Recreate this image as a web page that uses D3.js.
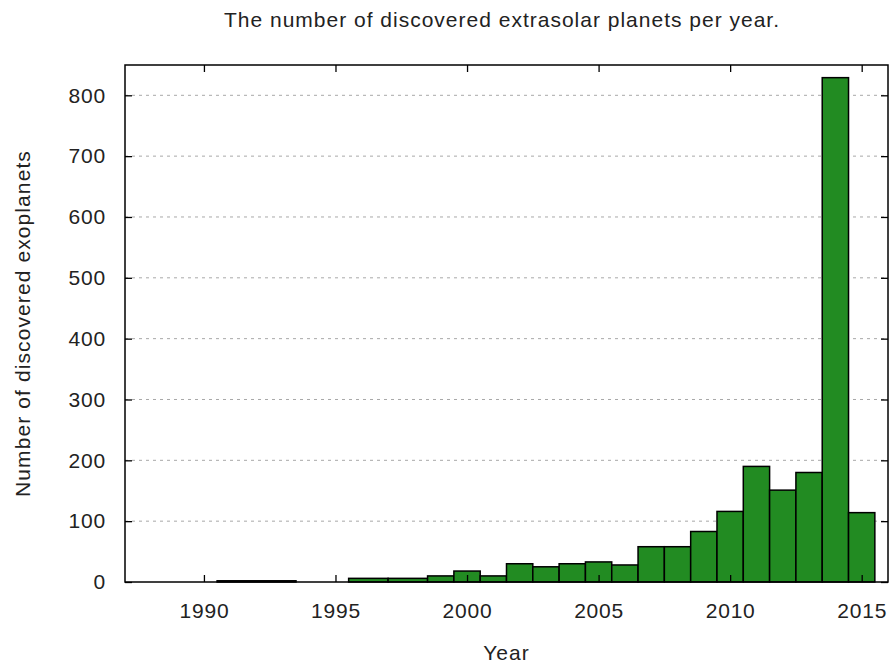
<!DOCTYPE html>
<html>
<head>
<meta charset="utf-8">
<script src="https://cdn.jsdelivr.net/npm/d3@7/dist/d3.min.js"></script>
<style>
  html, body { margin: 0; padding: 0; background: #fff; }
  svg { display: block; }
  text { font-family: "Liberation Sans", Arial, Helvetica, sans-serif; fill: #222; }
</style>
</head>
<body>
<script>
// Data
const years  = [1989, 1992, 1995, 1996, 1998, 1999, 2000, 2001, 2002, 2003, 2004, 2005, 2006, 2007, 2008, 2009, 2010, 2011, 2012, 2013, 2014, 2015];
const counts = [0, 2, 0, 6, 6, 10, 18, 10, 30, 25, 30, 33, 28, 58, 58, 83, 116, 190, 151, 180, 829, 114];
const xTicks = [1990, 1995, 2000, 2005, 2010, 2015];
const yTicks = [0, 100, 200, 300, 400, 500, 600, 700, 800];
const titleText = "The number of discovered extrasolar planets per year.";
const xLabel = "Year";
const yLabel = "Number of discovered exoplanets";

const W = 889, H = 663;
const m = { left: 125, right: 1, top: 65, bottom: 81 };
const iw = W - m.left - m.right, ih = H - m.top - m.bottom;

const svg = d3.select("body").append("svg").attr("width", W).attr("height", H);
const g = svg.append("g").attr("transform", `translate(${m.left},${m.top})`);

const x = d3.scaleLinear().domain([1987, 2016]).range([0, iw]);
const y = d3.scaleLinear().domain([0, 800 * ih / 486.7]).range([ih, 0]);

// gnuplot-style box edges: half way to neighbouring points
const bins = years.map((yr, i) => {
  const prev = i > 0 ? years[i - 1] : yr - (years[1] - years[0]);
  const next = i < years.length - 1 ? years[i + 1] : yr + (yr - years[i - 1]);
  return { yr, v: counts[i], lo: (prev + yr) / 2, hi: (yr + next) / 2 };
});

// grid
g.append("g").selectAll("line").data(yTicks.filter(d => d > 0)).join("line")
  .attr("x1", 0).attr("x2", iw)
  .attr("y1", d => y(d)).attr("y2", d => y(d))
  .attr("stroke", "#a8a8a8").attr("stroke-width", 1)
  .attr("stroke-dasharray", "3,4");

// bars
g.append("g").selectAll("rect").data(bins.filter(b => b.v > 0)).join("rect")
  .attr("x", d => x(d.lo)).attr("width", d => x(d.hi) - x(d.lo))
  .attr("y", d => y(d.v)).attr("height", d => y(0) - y(d.v))
  .attr("fill", "#228b22").attr("stroke", "#000").attr("stroke-width", 1.5);

// axes with inward ticks
const tickLen = 7;
const axL = d3.axisLeft(y).tickValues(yTicks).tickSize(-tickLen).tickPadding(19).tickFormat(d3.format("d"));
const axR = d3.axisRight(y).tickValues(yTicks).tickSize(-tickLen).tickFormat("");
const axB = d3.axisBottom(x).tickValues(xTicks).tickSize(-tickLen).tickPadding(21).tickFormat(d3.format("d"));
const axT = d3.axisTop(x).tickValues(xTicks).tickSize(-tickLen).tickFormat("");

function style(sel) {
  sel.select(".domain").remove();
  sel.selectAll(".tick line").attr("stroke", "#000").attr("stroke-width", 1.3);
  sel.selectAll(".tick text").style("font-size", "21px").style("letter-spacing", "0.8px").attr("fill", "#222");
}
g.append("g").call(axL).call(style);
g.append("g").attr("transform", `translate(${iw},0)`).call(axR).call(style);
g.append("g").attr("transform", `translate(0,${ih})`).call(axB).call(style);
g.append("g").call(axT).call(style);

// border
g.append("rect").attr("x", 0).attr("y", 0).attr("width", iw).attr("height", ih)
  .attr("fill", "none").attr("stroke", "#000").attr("stroke-width", 1.5);

// labels
svg.append("text").attr("x", 502).attr("y", 27).attr("text-anchor", "middle")
  .style("font-size", "21px").style("letter-spacing", "1px").text(titleText);
svg.append("text").attr("x", m.left + iw / 2).attr("y", 660).attr("text-anchor", "middle")
  .style("font-size", "21px").style("letter-spacing", "1px").text(xLabel);
svg.append("text").attr("transform", `translate(30,${m.top + ih / 2}) rotate(-90)`)
  .attr("text-anchor", "middle").style("font-size", "21px").style("letter-spacing", "1.1px").text(yLabel);
</script>
</body>
</html>
